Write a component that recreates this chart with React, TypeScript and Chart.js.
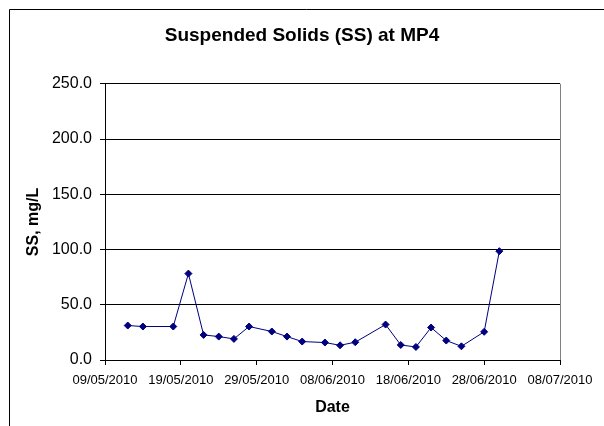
import React, { useEffect, useRef } from "react";
import { Chart, registerables } from "chart.js";

Chart.register(...registerables);

const TITLE = "Suspended Solids (SS) at MP4";
const X_TITLE = "Date";
const Y_TITLE = "SS, mg/L";

const sampleDates = [
  "2010-05-12", "2010-05-14", "2010-05-18", "2010-05-20", "2010-05-22",
  "2010-05-24", "2010-05-26", "2010-05-28", "2010-05-31", "2010-06-02",
  "2010-06-04", "2010-06-07", "2010-06-09", "2010-06-11", "2010-06-15",
  "2010-06-17", "2010-06-19", "2010-06-21", "2010-06-23", "2010-06-25",
  "2010-06-28", "2010-06-30",
];
const ssValues = [
  31.2, 30.3, 30.3, 78.2, 22.7,
  21.2, 19.1, 30.3, 25.8, 21.2,
  16.7, 15.8, 13.3, 16.1, 32.1,
  13.6, 11.8, 29.4, 17.6, 12.4,
  25.5, 98.5,
];
const xStart = "2010-05-09";
const xEnd = "2010-07-08";
const xStepDays = 10;
const yMin = 0;
const yMax = 250;
const yStep = 50;

const DAY = 86400000;
function toDay(s: string): number {
  const [y, m, d] = s.split("-").map(Number);
  return Date.UTC(y, m - 1, d) / DAY;
}
function fmtDay(v: number): string {
  const dt = new Date(v * DAY);
  const dd = String(dt.getUTCDate()).padStart(2, "0");
  const mm = String(dt.getUTCMonth() + 1).padStart(2, "0");
  return `${dd}/${mm}/${dt.getUTCFullYear()}`;
}

const SANS = '"Liberation Sans", Arial, sans-serif';

const framePlugin = {
  id: "frame",
  beforeDraw(chart: any) {
    const ctx = chart.ctx;
    ctx.save();
    ctx.fillStyle = "#ffffff";
    ctx.fillRect(0, 0, chart.width, chart.height);
    ctx.strokeStyle = "#000000";
    ctx.lineWidth = 1;
    ctx.beginPath();
    ctx.moveTo(9.5, chart.height);
    ctx.lineTo(9.5, 9.5);
    ctx.lineTo(chart.width, 9.5);
    ctx.stroke();
    ctx.restore();
  },
  afterDatasetsDraw(chart: any) {
    const { ctx, chartArea } = chart;
    ctx.save();
    ctx.strokeStyle = "#808080";
    ctx.lineWidth = 1;
    ctx.beginPath();
    const x = Math.round(chartArea.right) + 0.5;
    ctx.moveTo(x, chartArea.top);
    ctx.lineTo(x, chartArea.bottom);
    ctx.stroke();
    ctx.restore();
  },
};

export default function App() {
  const ref = useRef<HTMLCanvasElement | null>(null);

  useEffect(() => {
    if (!ref.current) return;
    const points = sampleDates.map((d, i) => ({ x: toDay(d), y: ssValues[i] }));
    const chart = new Chart(ref.current, {
      type: "line",
      data: {
        datasets: [
          {
            data: points,
            borderColor: "#000080",
            backgroundColor: "#000080",
            borderWidth: 1,
            pointStyle: "rectRot",
            pointRadius: 3.5,
            pointBorderWidth: 1,
            pointBackgroundColor: "#000080",
            pointBorderColor: "#000080",
            tension: 0,
            fill: false,
          },
        ],
      },
      options: {
        animation: false,
        responsive: false,
        devicePixelRatio: 1,
        layout: { padding: 0 },
        plugins: {
          legend: { display: false },
          tooltip: { enabled: false },
          title: {
            display: true,
            text: TITLE,
            color: "#000",
            font: { family: SANS, size: 19, weight: "bold" },
            padding: { top: 24, bottom: 37 },
          },
        },
        scales: {
          x: {
            type: "linear",
            min: toDay(xStart),
            max: toDay(xEnd),
            ticks: {
              stepSize: xStepDays,
              autoSkip: false,
              maxRotation: 0,
              minRotation: 0,
              padding: 8,
              color: "#000",
              font: { family: SANS, size: 13 },
              callback: (v: any) => fmtDay(Number(v)),
            },
            grid: {
              drawOnChartArea: false,
              drawTicks: true,
              tickLength: 5,
              color: "#000",
            },
            border: { color: "#000", width: 1 },
            title: {
              display: true,
              text: X_TITLE,
              color: "#000",
              font: { family: SANS, size: 16, weight: "bold" },
              padding: { top: 0, bottom: 9 },
            },
            afterFit: (s: any) => {
              s.height = 66;
              s.paddingLeft = 0;
              s.paddingRight = 44;
            },
          },
          y: {
            min: yMin,
            max: yMax,
            ticks: {
              stepSize: yStep,
              padding: 8,
              color: "#000",
              font: { family: SANS, size: 16 },
              callback: (v: any) => Number(v).toFixed(1),
            },
            grid: {
              color: "#000",
              lineWidth: 1,
              drawTicks: true,
              tickLength: 5,
            },
            border: { color: "#000", width: 1 },
            title: {
              display: true,
              text: Y_TITLE,
              color: "#000",
              font: { family: SANS, size: 16, weight: "bold" },
              padding: { top: 24, bottom: 0 },
            },
            afterFit: (s: any) => {
              s.width = 105;
            },
          },
        },
      },
      plugins: [framePlugin],
    });
    return () => chart.destroy();
  }, []);

  return (
    <div style={{ position: "fixed", left: 0, top: 0, width: 604, height: 426, background: "#fff" }}>
      <canvas ref={ref} width={604} height={426} style={{ display: "block" }} />
    </div>
  );
}
